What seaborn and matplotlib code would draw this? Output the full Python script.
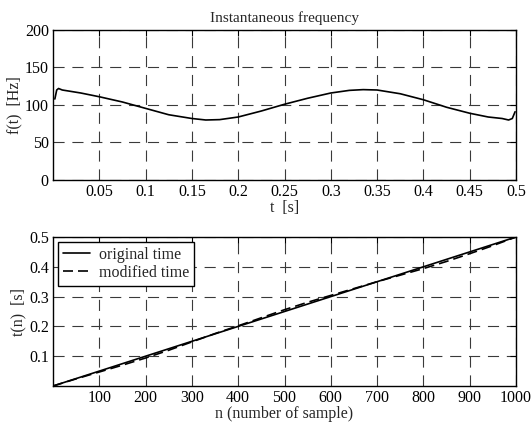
import numpy as np
import pandas as pd
import matplotlib
matplotlib.use("Agg")
import matplotlib.pyplot as plt
import seaborn as sns

# ---- data ----
t_sec = [0.002, 0.004, 0.006, 0.01, 0.02, 0.03, 0.05, 0.075, 0.1, 0.125, 0.15,
         0.165, 0.18, 0.2, 0.225, 0.25, 0.275, 0.3, 0.32, 0.335, 0.35, 0.375,
         0.4, 0.425, 0.45, 0.47, 0.485, 0.492, 0.496, 0.499]
freq_hz = [108, 120, 122, 120, 118, 116, 111, 104, 95.5, 87, 82,
           80, 80.5, 84, 92, 101, 109, 116, 119.5, 120.5, 120, 115,
           107, 97, 89, 84, 82, 80, 82, 91]

n_samples = [0, 100, 200, 300, 400, 500, 600, 700, 800, 900, 1000]
orig_time = [0.0, 0.05, 0.10, 0.15, 0.20, 0.25, 0.30, 0.35, 0.40, 0.45, 0.50]
mod_n = [0, 50, 100, 150, 200, 250, 300, 350, 400, 450, 500, 550, 600, 650,
         700, 750, 800, 850, 900, 950, 1000]
mod_time = [0.0, 0.024, 0.047, 0.070, 0.094, 0.120, 0.148, 0.176, 0.202, 0.229,
            0.256, 0.281, 0.304, 0.327, 0.350, 0.372, 0.394, 0.418, 0.444, 0.471, 0.50]

top_xticks = [0.05, 0.1, 0.15, 0.2, 0.25, 0.3, 0.35, 0.4, 0.45, 0.5]
top_xlabels = ["0.05", "0.1", "0.15", "0.2", "0.25", "0.3", "0.35", "0.4", "0.45", "0.5"]
top_yticks = [0, 50, 100, 150, 200]
bot_xticks = [100, 200, 300, 400, 500, 600, 700, 800, 900, 1000]
bot_yticks = [0.1, 0.2, 0.3, 0.4, 0.5]
bot_ylabels = ["0.1", "0.2", "0.3", "0.4", "0.5"]

# ---- style ----
sns.set_theme(style="white")
plt.rcParams["font.family"] = ["Liberation Serif", "DejaVu Serif"]

fig = plt.figure(figsize=(5.31, 4.23), dpi=100)
ax1 = fig.add_axes([53 / 531, 1 - 180 / 423, 463 / 531, 150 / 423])
ax2 = fig.add_axes([53 / 531, 1 - 386 / 423, 463 / 531, 149 / 423])

fs = 11.5
grid_kw = dict(color="#3a3a3a", linestyle=(0, (10, 7)), linewidth=0.8)

# top
df1 = pd.DataFrame({"t": t_sec, "f": freq_hz})
sns.lineplot(data=df1, x="t", y="f", ax=ax1, color="black", linewidth=1.2)
ax1.set_xlim(0, 0.5)
ax1.set_ylim(0, 200)
ax1.set_xticks(top_xticks)
ax1.set_xticklabels(top_xlabels)
ax1.set_yticks(top_yticks)
ax1.set_title("Instantaneous frequency", fontsize=fs - 0.5, pad=6)
ax1.set_xlabel("t  [s]", fontsize=fs, labelpad=0)
ax1.set_ylabel("f(t)  [Hz]", fontsize=fs, labelpad=2)

# bottom
df_o = pd.DataFrame({"n": n_samples, "t": orig_time})
df_m = pd.DataFrame({"n": mod_n, "t": mod_time})
sns.lineplot(data=df_o, x="n", y="t", ax=ax2, color="black", linewidth=1.2,
             label="original time")
sns.lineplot(data=df_m, x="n", y="t", ax=ax2, color="black", linewidth=1.2,
             linestyle=(0, (6, 3)), label="modified time")
ax2.set_xlim(0, 1000)
ax2.set_ylim(0, 0.5)
ax2.set_xticks(bot_xticks)
ax2.set_yticks(bot_yticks)
ax2.set_yticklabels(bot_ylabels)
ax2.set_xlabel("n (number of sample)", fontsize=fs, labelpad=0)
ax2.set_ylabel("t(n)  [s]", fontsize=fs, labelpad=2)
leg = ax2.legend(loc="upper left", fontsize=fs, frameon=True, fancybox=False,
                 edgecolor="black", borderpad=0.3, handlelength=1.7,
                 handletextpad=0.6, labelspacing=0.15, borderaxespad=0.3)
leg.get_frame().set_linewidth(1.0)
leg.get_frame().set_alpha(1)

for ax in (ax1, ax2):
    ax.grid(True, **grid_kw)
    ax.set_axisbelow(True)
    for s in ax.spines.values():
        s.set_color("black")
        s.set_linewidth(1.0)
    ax.tick_params(direction="in", length=4, width=0.8, colors="black",
                   labelsize=fs, pad=3, top=True, right=True)

fig.savefig("out.png", dpi=100, facecolor="white")
